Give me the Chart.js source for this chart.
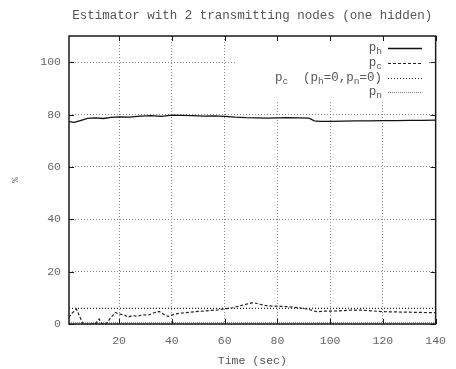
<!DOCTYPE html>
<html>
<head>
<meta charset="utf-8">
<script src="https://cdn.jsdelivr.net/npm/chart.js@4.4.0/dist/chart.umd.min.js"></script>
<style>
body { margin: 0; background: #fff; }
#wrap { width: 456px; height: 369px; }
</style>
</head>
<body>
<div id="wrap"><canvas id="chart"></canvas></div>
<script>
// data
const timeH = [1, 3, 5, 8, 11, 14, 17, 20, 24, 28, 32, 36, 40, 44, 48, 52, 56, 60, 64, 68, 72, 76, 80, 84, 88, 92, 94, 96, 100, 105, 110, 115, 120, 125, 130, 135, 140];
const pH = [77.3, 77.0, 77.6, 78.5, 78.7, 78.5, 78.9, 79.1, 79.0, 79.4, 79.6, 79.3, 79.8, 79.7, 79.6, 79.4, 79.5, 79.3, 79.0, 78.8, 78.7, 78.6, 78.7, 78.8, 78.7, 78.6, 77.6, 77.4, 77.4, 77.5, 77.6, 77.6, 77.7, 77.7, 77.8, 77.8, 77.9];

const timeC = [1, 2, 3.8, 5, 6.3, 8, 10.9, 12.4, 13.6, 15, 16.5, 18.6, 20, 22, 23.3, 25, 27, 29, 31, 33, 35.2, 37, 38.6, 40, 41.5, 44, 47, 50, 53, 55, 57.4, 60, 63, 66, 68, 70.8, 73, 76.5, 80, 84, 88, 91.6, 94.8, 98, 103, 108, 112, 116, 120, 125, 130, 135, 140];
const pC = [2.5, 4.0, 5.7, 3.0, 0, 0, 0, 1.9, 0, 0, 2.0, 4.4, 3.8, 3.5, 2.6, 3.2, 3.0, 3.5, 3.4, 4.2, 4.8, 3.6, 2.9, 3.4, 3.9, 4.2, 4.5, 4.8, 5.0, 5.2, 5.4, 5.8, 6.2, 7.0, 7.5, 8.2, 7.6, 6.9, 6.8, 6.6, 6.2, 5.7, 4.7, 4.9, 5.0, 5.3, 5.3, 5.0, 4.7, 4.6, 4.5, 4.4, 4.3];

const timeFlat = [1, 140];
const pCzero = [6, 6];
const pN = [0.5, 0.5];

const xTickValues = [20, 40, 60, 80, 100, 120, 140];
const yTickValues = [0, 20, 40, 60, 80, 100];

// key labels: [text, isSubscript]
const keyLabels = [
  [['p', 0], ['h', 1]],
  [['p', 0], ['c', 1]],
  [['p', 0], ['c', 1], ['  (p', 0], ['h', 1], ['=0,p', 0], ['n', 1], ['=0)', 0]],
  [['p', 0], ['n', 1]]
];

function toPoints(xs, ys) {
  return xs.map((x, i) => ({x: x, y: ys[i]}));
}

const FONT = "'Liberation Mono', 'DejaVu Sans Mono', monospace";

const datasets = [
  {data: toPoints(timeH, pH), borderColor: '#111', borderWidth: 1.3, borderDash: []},
  {data: toPoints(timeC, pC), borderColor: '#222', borderWidth: 1.2, borderDash: [3, 2]},
  {data: toPoints(timeFlat, pCzero), borderColor: '#222', borderWidth: 1.2, borderDash: [1, 2]},
  {data: toPoints(timeFlat, pN), borderColor: '#888', borderWidth: 1.2, borderDash: [1, 1]}
];
datasets.forEach(d => { d.pointRadius = 0; d.tension = 0; d.fill = false; });

function drawRich(ctx, parts, right, y) {
  const main = '12.5px ' + FONT, sub = '9.5px ' + FONT;
  let w = 0;
  parts.forEach(p => { ctx.font = p[1] ? sub : main; w += ctx.measureText(p[0]).width; });
  let x = right - w;
  ctx.textAlign = 'left';
  ctx.textBaseline = 'middle';
  parts.forEach(p => {
    ctx.font = p[1] ? sub : main;
    ctx.fillText(p[0], x, p[1] ? y + 3 : y);
    x += ctx.measureText(p[0]).width;
  });
}

const gnuplotLook = {
  id: 'gnuplotLook',
  beforeDatasetsDraw(chart) {
    const ctx = chart.ctx, a = chart.chartArea;
    // opaque key box
    ctx.save();
    ctx.fillStyle = '#fff';
    ctx.fillRect(237, a.top, 428 - 237, 100 - a.top);
    ctx.restore();
  },
  afterDatasetsDraw(chart) {
    const ctx = chart.ctx, a = chart.chartArea;
    const xs = chart.scales.x, ys = chart.scales.y;
    ctx.save();
    // border
    ctx.strokeStyle = '#1a1a1a';
    ctx.lineWidth = 1.5;
    ctx.setLineDash([]);
    ctx.strokeRect(a.left, a.top, a.right - a.left, a.bottom - a.top);
    // inward ticks on all four sides
    ctx.lineWidth = 1;
    ctx.beginPath();
    xTickValues.forEach(v => {
      const px = Math.round(xs.getPixelForValue(v)) + 0.5;
      ctx.moveTo(px, a.bottom); ctx.lineTo(px, a.bottom - 5);
      ctx.moveTo(px, a.top); ctx.lineTo(px, a.top + 5);
    });
    yTickValues.forEach(v => {
      const py = Math.round(ys.getPixelForValue(v)) + 0.5;
      ctx.moveTo(a.left, py); ctx.lineTo(a.left + 5, py);
      ctx.moveTo(a.right, py); ctx.lineTo(a.right - 5, py);
    });
    ctx.stroke();
    // key
    ctx.fillStyle = '#555';
    const rowY = [48, 63, 78, 92];
    keyLabels.forEach((parts, i) => {
      drawRich(ctx, parts, 382, rowY[i]);
      const ds = datasets[i];
      ctx.strokeStyle = ds.borderColor;
      ctx.lineWidth = ds.borderWidth;
      ctx.setLineDash(ds.borderDash);
      ctx.beginPath();
      ctx.moveTo(388, rowY[i] + 0.5);
      ctx.lineTo(422, rowY[i] + 0.5);
      ctx.stroke();
    });
    ctx.restore();
  }
};

new Chart(document.getElementById('chart'), {
  type: 'line',
  data: {datasets: datasets},
  plugins: [gnuplotLook],
  options: {
    responsive: true,
    maintainAspectRatio: false,
    animation: false,
    layout: {padding: {left: 0, right: 20, top: 0, bottom: 0}},
    plugins: {
      legend: {display: false},
      tooltip: {enabled: false},
      title: {
        display: true,
        fullSize: false,
        text: 'Estimator with 2 transmitting nodes (one hidden)',
        color: '#555',
        font: {family: FONT, size: 12.5, weight: 'normal'},
        padding: {top: 8, bottom: 13}
      }
    },
    scales: {
      x: {
        type: 'linear',
        min: 1,
        max: 140,
        afterBuildTicks: s => { s.ticks = s.ticks.filter(t => xTickValues.includes(t.value)); },
        afterFit: s => { s.height = 45; },
        ticks: {stepSize: 20, autoSkip: false, maxRotation: 0, padding: 10, color: '#666',
                font: {family: FONT, size: 11.5}},
        grid: {color: '#888', drawTicks: false, lineWidth: 1},
        border: {display: false, dash: [1, 2]},
        title: {display: true, text: 'Time (sec)', color: '#555', padding: {top: 0, bottom: 1},
                font: {family: FONT, size: 11.5}}
      },
      y: {
        type: 'linear',
        min: 0,
        max: 110,
        afterBuildTicks: s => { s.ticks = s.ticks.filter(t => yTickValues.includes(t.value)); },
        afterFit: s => { s.width = 69; },
        ticks: {stepSize: 20, padding: 8, color: '#666', font: {family: FONT, size: 11.5}},
        grid: {color: '#888', drawTicks: false, lineWidth: 1},
        border: {display: false, dash: [1, 2]},
        title: {display: true, text: '%', color: '#666', padding: {top: 10, bottom: 0},
                font: {family: FONT, size: 9}}
      }
    }
  }
});
</script>
</body>
</html>
